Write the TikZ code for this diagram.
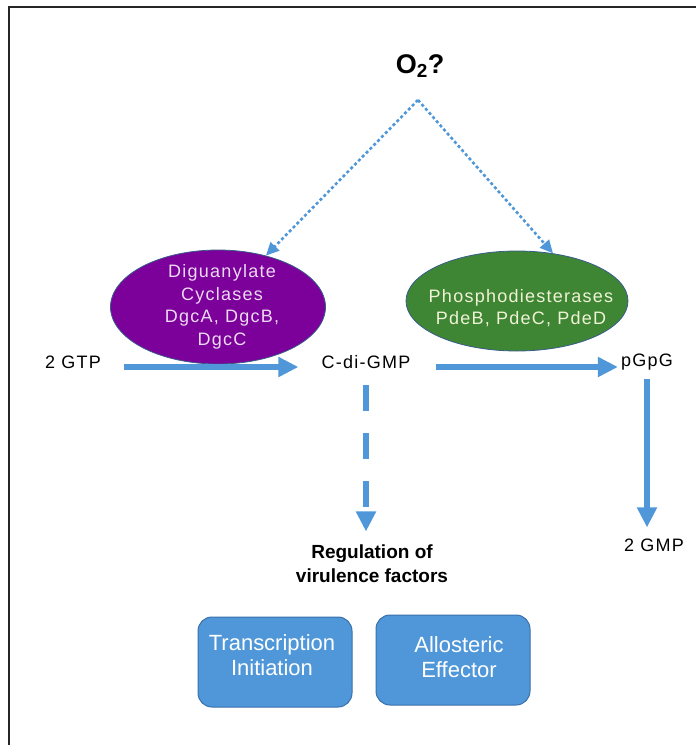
\documentclass[tikz,border=0pt]{standalone}
\usepackage{fontspec}
\setmainfont{Liberation Sans}
\newfontfamily\widesans[LetterSpace=7]{Liberation Sans}
\usetikzlibrary{arrows.meta,shapes.geometric}
\definecolor{flowblue}{RGB}{79,151,216}
\definecolor{boxedge}{RGB}{58,112,172}
\definecolor{dgcpurple}{RGB}{124,0,154}
\definecolor{pdegreen}{RGB}{62,134,52}
\definecolor{enzedge}{RGB}{56,93,138}
\definecolor{dgctext}{RGB}{236,218,242}
\definecolor{pdetext}{RGB}{240,242,214}

\begin{document}
\begin{tikzpicture}[
  x=1pt, y=-1pt,
  lbl/.style={font=\widesans\fontsize{18}{22}\selectfont, inner sep=1pt},
  enzyme/.style={ellipse, draw=enzedge, line width=0.8pt, inner sep=0pt},
  enztext/.style={font=\widesans\fontsize{18}{22.5}\selectfont, align=center, inner sep=0pt},
  flow/.style={flowblue, line width=5.5pt, -{Triangle[length=20pt,width=19pt]}},
  signal/.style={flowblue, line width=2.6pt, dash pattern=on 3pt off 2.5pt,
    -{Triangle[length=13pt,width=12pt]}},
  effect/.style={rectangle, rounded corners=14pt, draw=boxedge, line width=1pt,
    fill=flowblue, minimum width=154pt, minimum height=90pt},
  efftext/.style={font=\fontsize{22}{25}\selectfont, text=white, align=center,
    inner sep=0pt, anchor=north},
]
\useasboundingbox (0,0) rectangle (696,745);

% frame (left and top edges only)
\draw[black!85, line width=2.5pt] (9,745) -- (9,7) -- (696,7);

% oxygen signal
\node[font=\bfseries\fontsize{27}{30}\selectfont] (o2) at (420,66) {O\textsubscript{2}?};
\coordinate (apex) at (418,100);

% enzymes
\node[enzyme, fill=dgcpurple, minimum width=215pt, minimum height=114pt,
  label={[enztext, text=dgctext, xshift=4pt]center:{Diguanylate\\Cyclases\\DgcA, DgcB,\\DgcC}}]
  (dgc) at (218,307) {};
\node[enzyme, fill=pdegreen, minimum width=222pt, minimum height=100pt,
  label={[enztext, text=pdetext, xshift=4pt, yshift=-7pt]center:{Phosphodiesterases\\PdeB, PdeC, PdeD}}]
  (pde) at (517,301) {};

% metabolites
\node[lbl] (gtp) at (73,362) {2 GTP};
\node[lbl] (cdg) at (366,362) {C-di-GMP};
\node[lbl] (pgpg) at (647,362) {pGpG};
\node[lbl] (gmp) at (654,545) {2 GMP};

\node[font=\bfseries\fontsize{19}{24}\selectfont, align=center] (reg) at (372,564)
  {Regulation of\\virulence factors};

% effector boxes
\node[effect, label={[efftext, xshift=-3pt, yshift=-18pt]north:{Transcription\\Initiation}}]
  (tx) at (275,662) {};
\node[effect, label={[efftext, xshift=6pt, yshift=-22pt]north:{Allosteric\\Effector}}]
  (allo) at (453,660) {};

% connectors
\draw[signal] (apex) -- (dgc.47);
\draw[signal] (apex) -- (pde.53);

\draw[flow, shorten <=22pt, shorten >=22pt] ([yshift=-5pt]gtp.east) -- ([yshift=-5pt]cdg.west);
\draw[flow, shorten <=24pt, shorten >=2pt] ([yshift=-5pt]cdg.east) -- ([yshift=-5pt]pgpg.west);
\draw[flow, line width=6.5pt, dash pattern=on 26pt off 22pt, shorten <=15pt, shorten >=10pt]
  (cdg.south) -- (cdg.south |- reg.north);
\draw[flow, shorten <=8pt, shorten >=10pt] (pgpg.south) -- (pgpg.south |- gmp.north);

\end{tikzpicture}
\end{document}
